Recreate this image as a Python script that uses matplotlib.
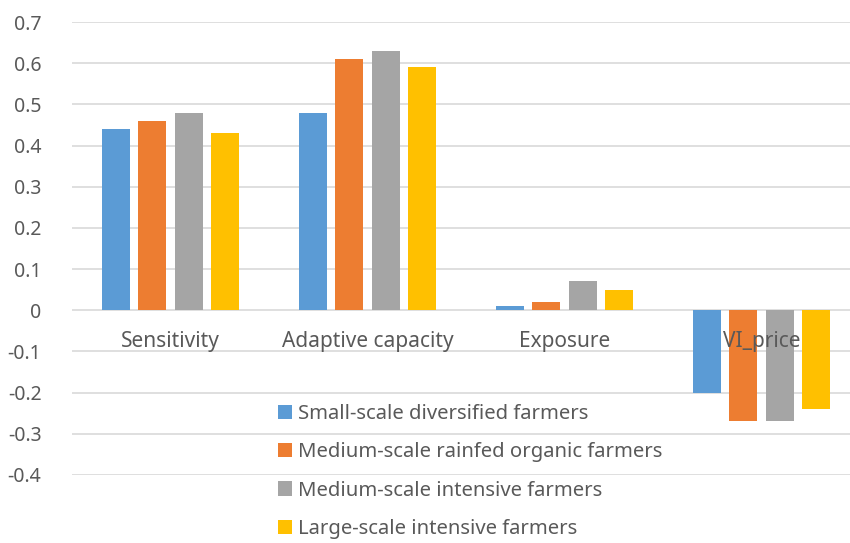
import numpy as np
import matplotlib.pyplot as plt

# datos
categorias = ["Sensitivity", "Adaptive capacity", "Exposure", "VI_price"]
grupos = ["Small-scale diversified farmers",
          "Medium-scale rainfed organic farmers",
          "Medium-scale intensive farmers",
          "Large-scale intensive farmers"]
small_div = [0.44, 0.48, 0.01, -0.20]
medium_org = [0.46, 0.61, 0.02, -0.27]
medium_int = [0.48, 0.63, 0.07, -0.27]
large_int = [0.43, 0.59, 0.05, -0.24]
colores = ["#5b9bd5", "#ed7d31", "#a5a5a5", "#ffc000"]

plt.rcParams['font.family'] = ['Noto Sans', 'DejaVu Sans']
gris = "#595959"

fig = plt.figure(figsize=(8.5, 5.43), dpi=100)
ax = fig.add_axes([72/850, 1 - 475/543, 788/850, (475-22)/543])

x = np.arange(len(categorias))
ancho = 0.142
paso = 0.183
series = [small_div, medium_org, medium_int, large_int]
for i, (vals, nombre, c) in enumerate(zip(series, grupos, colores)):
    ax.bar(x + (i - 1.5)*paso, vals, ancho, color=c, label=nombre, zorder=3)

ax.set_xlim(-0.5, 3.5)
ax.set_ylim(-0.4, 0.7)
ax.set_yticks(np.arange(-0.4, 0.71, 0.1))
ax.set_yticklabels(["-0.4", "-0.3", "-0.2", "-0.1", "0", "0.1", "0.2", "0.3",
                    "0.4", "0.5", "0.6", "0.7"])
ax.grid(axis='y', color="#d9d9d9", linewidth=1.2, zorder=0)
ax.set_xticks([])
for s in ax.spines.values():
    s.set_visible(False)
ax.tick_params(axis='y', length=0, pad=22, labelsize=14, labelcolor=gris)

# etiquetas de categoria junto a la linea del cero
for xi, cat in zip(x, categorias):
    ax.text(xi, -0.05, cat, ha='center', va='top', fontsize=15, color=gris, zorder=4)

leg = ax.legend(loc='upper left', bbox_to_anchor=(268/850, 1 - 394/543),
                bbox_transform=fig.transFigure, frameon=False, fontsize=14.6,
                handlelength=0.7, handleheight=0.7, handletextpad=0.3,
                labelspacing=0.9, borderpad=0)
for t in leg.get_texts():
    t.set_color(gris)

fig.savefig("out.png", dpi=100)
